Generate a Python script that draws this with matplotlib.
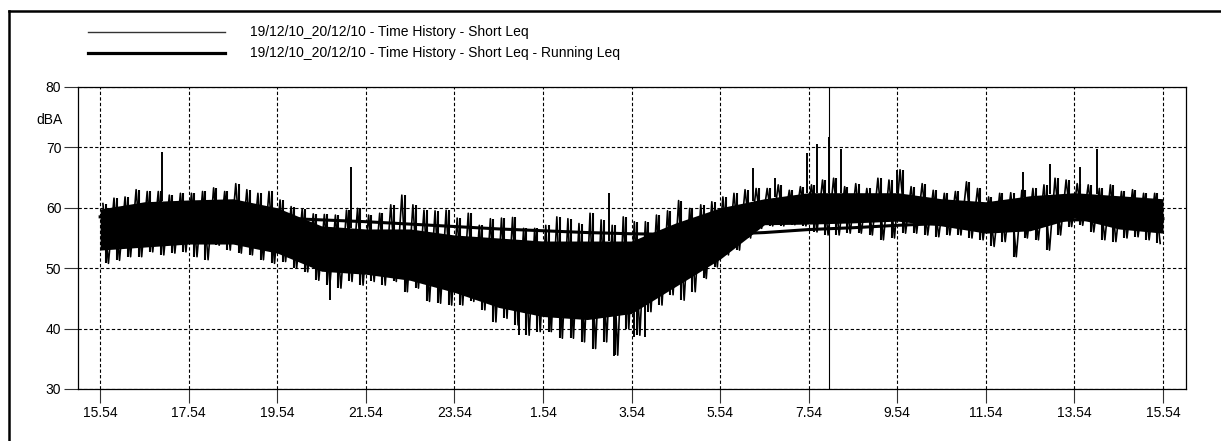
import numpy as np
import matplotlib
matplotlib.use("Agg")
import matplotlib.pyplot as plt
from matplotlib.lines import Line2D

plt.rcParams['font.family'] = ['Liberation Sans', 'DejaVu Sans']

# ---------------- data ----------------
# x tick labels (clock time), one every 2 hours from the start
tick_labels = ["15.54", "17.54", "19.54", "21.54", "23.54", "1.54", "3.54",
               "5.54", "7.54", "9.54", "11.54", "13.54", "15.54"]
tick_hours = [0, 2, 4, 6, 8, 10, 12, 14, 16, 18, 20, 22, 24]

# Short Leq: per quarter-hour extremes (dBA), hours elapsed since 15.54
quarter_hours = [i * 0.25 + 0.125 for i in range(96)]
short_hi = [60.7, 61.6, 61.8, 63.0, 62.7, 62.7, 62.1, 62.4, 62.4, 62.7, 63.3, 62.7, 64.0, 63.0, 62.4, 62.7,
            61.3, 60.2, 59.8, 59.0, 58.9, 58.8, 59.6, 59.9, 58.8, 59.1, 60.5, 62.1, 60.5, 59.6, 59.5, 59.6,
            58.3, 59.1, 57.1, 58.2, 58.3, 58.4, 56.6, 56.6, 57.1, 58.5, 58.2, 57.4, 59.1, 58.0, 57.1, 58.5,
            57.7, 57.7, 58.8, 59.5, 61.2, 59.9, 60.5, 61.0, 61.8, 62.4, 63.0, 63.2, 63.2, 63.8, 62.9, 63.5,
            63.8, 64.6, 64.9, 63.5, 64.0, 63.2, 64.9, 64.6, 66.3, 63.5, 64.0, 62.9, 62.4, 62.7, 64.3, 63.2,
            61.8, 62.4, 62.5, 62.9, 63.2, 63.8, 64.9, 64.6, 64.0, 63.8, 63.2, 63.8, 62.7, 63.0, 62.4, 62.4]
short_lo = [50.8, 51.3, 51.9, 51.9, 52.7, 52.2, 52.5, 52.7, 51.9, 51.4, 53.8, 53.0, 52.5, 52.2, 51.4, 50.8,
            51.1, 50.0, 49.4, 48.0, 47.2, 46.7, 47.8, 47.2, 47.8, 47.2, 47.8, 46.1, 46.7, 44.5, 44.2, 43.9,
            43.9, 44.5, 43.1, 41.1, 41.7, 40.6, 38.9, 39.5, 39.5, 38.4, 38.4, 37.8, 36.7, 37.8, 35.6, 40.0,
            38.9, 42.8, 43.9, 45.6, 44.7, 46.1, 48.3, 50.2, 52.2, 53.0, 55.0, 56.6, 57.0, 57.0, 57.2, 57.0,
            56.0, 55.5, 55.5, 55.8, 55.8, 55.5, 54.7, 55.0, 55.8, 55.8, 55.5, 55.2, 55.5, 55.5, 55.0, 54.7,
            53.6, 54.4, 51.9, 55.0, 54.7, 53.0, 55.5, 56.9, 57.1, 56.0, 54.7, 54.4, 55.0, 55.2, 54.7, 54.1]

# Short Leq: dense (solid) part of the trace, hourly
hours = list(range(25))
core_hi = [59.8, 61.0, 61.3, 61.5, 60.0, 57.0, 56.5, 56.5, 55.5, 55.0, 54.5, 54.5, 54.5,
           57.5, 60.0, 61.5, 62.5, 62.5, 62.5, 61.5, 61.0, 62.0, 62.5, 62.0, 61.5]
core_lo = [53.0, 53.5, 54.0, 54.0, 52.5, 49.5, 49.0, 48.0, 46.0, 43.5, 42.0, 41.5, 42.5,
           47.0, 51.5, 57.2, 57.3, 57.5, 57.8, 57.0, 55.8, 56.2, 58.3, 56.5, 55.8]

# isolated events (hour, peak dBA)
event_hours = [1.39, 5.67, 11.49, 14.75, 15.25, 15.96, 16.19, 16.45, 16.72, 18.0, 20.83, 21.46, 22.13, 22.52]
event_peak = [69.3, 66.7, 62.4, 66.6, 65.0, 69.0, 70.6, 71.7, 69.8, 66.3, 66.0, 67.2, 66.8, 69.8]
dip_hours = [5.19, 9.45, 11.6, 12.05, 12.3]
dip_low = [44.7, 38.9, 35.4, 38.6, 38.6]

# Running Leq, hourly
running_leq = [58.5, 58.5, 58.6, 58.6, 58.3, 58.0, 57.7, 57.3, 56.9, 56.5, 56.2, 55.9, 55.7,
               55.6, 55.6, 55.9, 56.4, 56.7, 57.1, 57.4, 57.6, 57.8, 58.0, 58.1, 58.2]

cursor_hour = 16.46

legend_labels = ["19/12/10_20/12/10 - Time History - Short Leq",
                 "19/12/10_20/12/10 - Time History - Short Leq - Running Leq"]

# ---------------- figure ----------------
W, H = 1221, 441
fig = plt.figure(figsize=(W / 100, H / 100), dpi=100)
ax = fig.add_axes([78 / W, 52 / H, 1108 / W, 302 / H])

# Short Leq trace
ax.fill_between(hours, core_lo, core_hi, color='black', lw=0, zorder=3)
qh = np.array(quarter_hours)
zx = np.empty(2 * len(qh))
zy = np.empty(2 * len(qh))
zx[0::2] = qh - 0.0625
zx[1::2] = qh + 0.0625
zy[0::2] = short_hi
zy[1::2] = short_lo
ax.plot(zx, zy, color='black', lw=1.2, zorder=3)
ax.vlines(qh, short_lo, short_hi, color='black', lw=1.5, zorder=3)
ev_base = np.interp(event_hours, hours, core_hi)
ax.vlines(event_hours, ev_base, event_peak, color='black', lw=1.4, zorder=3)
dp_base = np.interp(dip_hours, hours, core_lo)
ax.vlines(dip_hours, dip_low, dp_base, color='black', lw=1.4, zorder=3)

# Running Leq
ax.plot(hours, running_leq, color='black', lw=2.2, zorder=4)

# cursor
ax.axvline(cursor_hour, color='black', lw=0.8, zorder=5)

ax.set_xlim(-0.5, 24.52)
ax.set_ylim(30, 80)
ax.set_xticks(tick_hours)
ax.set_xticklabels(tick_labels)
ax.set_yticks([30, 40, 50, 60, 70, 80])
ax.tick_params(axis='both', length=10, width=0.8, color='#333333', labelsize=10, pad=2)
ax.grid(True, color='black', linestyle=(0, (3, 2)), lw=0.8)
ax.set_axisbelow(True)
for s in ax.spines.values():
    s.set_color('black')
    s.set_linewidth(0.9)

fig.text(63 / W, 1 - 120 / H, 'dBA', ha='right', va='center', fontsize=10)

# legend (drawn by hand to match the layout)
fig.add_artist(Line2D([88 / W, 225 / W], [1 - 32 / H, 1 - 32 / H], color='#333333', lw=1.0,
                      transform=fig.transFigure))
fig.add_artist(Line2D([88 / W, 225 / W], [1 - 53 / H, 1 - 53 / H], color='black', lw=2.3,
                      transform=fig.transFigure))
fig.text(250 / W, 1 - 32 / H, legend_labels[0], ha='left', va='center', fontsize=10)
fig.text(250 / W, 1 - 53 / H, legend_labels[1], ha='left', va='center', fontsize=10)

# outer frame (left and top edges visible)
fig.add_artist(Line2D([9 / W, 9 / W], [0, 1 - 11 / H], color='black', lw=1.8, transform=fig.transFigure))
fig.add_artist(Line2D([9 / W, 1], [1 - 11 / H, 1 - 11 / H], color='black', lw=1.8, transform=fig.transFigure))

fig.savefig('out.png', dpi=100)
